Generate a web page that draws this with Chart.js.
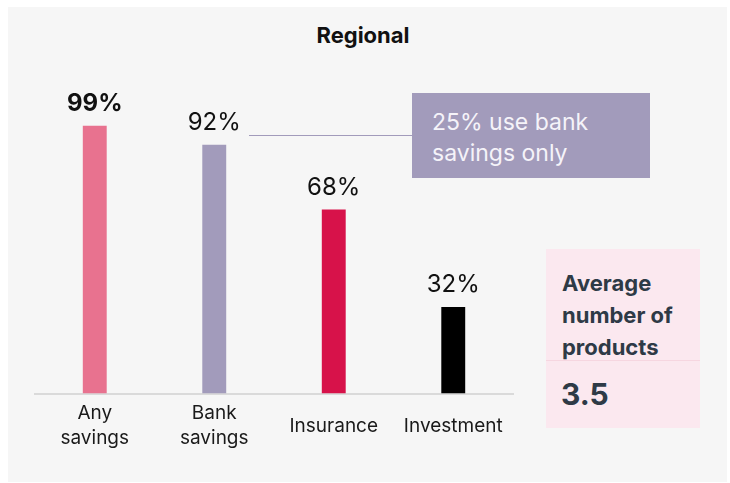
<!DOCTYPE html>
<html>
<head>
<meta charset="utf-8">
<script src="https://cdn.jsdelivr.net/npm/chart.js"></script>
<style>
  html, body { margin: 0; padding: 0; background: #ffffff; }
  body { width: 730px; height: 483px; position: relative; overflow: hidden; font-family: Inter, "Open Sans", sans-serif; }
  #panel { position: absolute; left: 8px; top: 7px; width: 719px; height: 475px; background: #f6f6f6; }
  #wrap { position: absolute; left: 0; top: 0; width: 730px; height: 483px; }
  #title { position: absolute; left: 0; top: 21px; width: 726px; text-align: center; font-size: 22px; font-weight: 700; color: #111111; line-height: 28px; }
  #connector { position: absolute; left: 249px; top: 135px; width: 163px; height: 1px; background: #a29bbb; }
  #callout { position: absolute; left: 412px; top: 93px; width: 238px; height: 85px; background: #a29bbb;
             color: #f5f3f9; font-size: 23px; line-height: 31px; box-sizing: border-box; padding: 14px 0 0 20px; }
  #avgBox { position: absolute; left: 546px; top: 249px; width: 154px; height: 179px; background: #fbe8ef; color: #2e3a46; }
  #avgLabel { position: absolute; left: 16px; top: 18px; font-size: 22px; font-weight: 700; line-height: 32px; }
  #avgSep { position: absolute; left: 0; top: 111px; width: 154px; height: 1px; background: #f6d6e0; }
  #avgValue { position: absolute; left: 15px; top: 127px; font-size: 30px; font-weight: 700; }
</style>
</head>
<body>
<div id="panel"></div>
<div id="title">Regional</div>
<div id="wrap"><canvas id="chart" width="730" height="483"></canvas></div>
<div id="connector"></div>
<div id="callout">25% use bank<br>savings only</div>
<div id="avgBox">
  <div id="avgLabel">Average<br>number of<br>products</div>
  <div id="avgSep"></div>
  <div id="avgValue">3.5</div>
</div>
<script>
// dados do gráfico
const categories = [['Any', 'savings'], ['Bank', 'savings'], 'Insurance', 'Investment'];
const shareValues = [99, 92, 68, 32];
const barColors = ['#e8728f', '#a29bbb', '#d7124a', '#000000'];

// rótulos de valor acima das barras
const valueLabels = {
  id: 'valueLabels',
  afterDatasetsDraw(chart) {
    const ctx = chart.ctx;
    const meta = chart.getDatasetMeta(0);
    const top = Math.max(...shareValues);
    ctx.save();
    ctx.textAlign = 'center';
    ctx.textBaseline = 'alphabetic';
    ctx.fillStyle = '#111111';
    meta.data.forEach((bar, i) => {
      const v = shareValues[i];
      ctx.font = (v === top ? '700 ' : '400 ') + '24px Inter, "Open Sans", sans-serif';
      ctx.fillText(v + '%', bar.x, bar.y - 15);
    });
    ctx.restore();
  }
};

new Chart(document.getElementById('chart'), {
  type: 'bar',
  data: {
    labels: categories,
    datasets: [{
      data: shareValues,
      backgroundColor: barColors,
      borderWidth: 0,
      barPercentage: 1,
      categoryPercentage: 0.2
    }]
  },
  options: {
    responsive: false,
    animation: false,
    layout: { padding: { left: 35, right: 217, top: 123, bottom: 0 } },
    plugins: {
      legend: { display: false },
      tooltip: { enabled: false },
      title: { display: false }
    },
    scales: {
      y: { display: false, min: 0, max: 100 },
      x: {
        grid: { display: false, drawTicks: false },
        border: { display: true, color: '#dadada', width: 2 },
        ticks: {
          color: '#1a1a1a',
          padding: 20,
          crossAlign: 'center',
          font: { family: 'Inter, "Open Sans", sans-serif', size: 19, lineHeight: 1.3 }
        }
      }
    }
  },
  plugins: [valueLabels]
});
</script>
</body>
</html>
